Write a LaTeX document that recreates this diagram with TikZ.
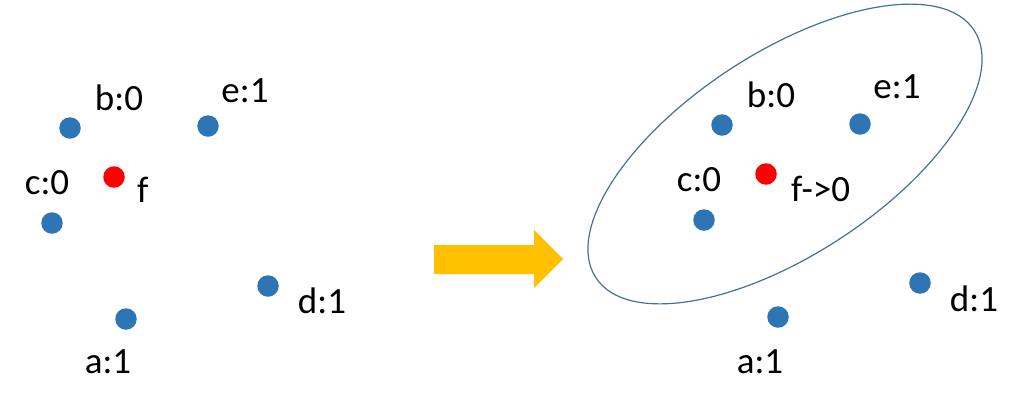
\documentclass[tikz,border=0pt]{standalone}
\usepackage{fontspec}
\setmainfont{Carlito}
\definecolor{dotblue}{HTML}{2E75B6}
\definecolor{dotred}{HTML}{FF0000}
\definecolor{ellblue}{HTML}{41719C}
\definecolor{arrowgold}{HTML}{FFC000}
\tikzset{
  pt/.style={circle, fill=dotblue, inner sep=0pt, minimum size=21.5pt},
  qpt/.style={circle, fill=dotred, inner sep=0pt, minimum size=21.5pt},
  lbl/.style={inner sep=0pt, font=\fontsize{37}{42}\selectfont, text=black}
}
\begin{document}
\begin{tikzpicture}[x=1pt, y=-1pt]
\useasboundingbox (0,0) rectangle (1024,408);
% left panel
\node[pt] (la) at (126,319) {};
\node[pt] (lb) at (70,128) {};
\node[pt] (lc) at (52,223) {};
\node[pt] (ld) at (268,286) {};
\node[pt] (le) at (208,126) {};
\node[qpt] (lf) at (114,177) {};
\node[lbl] (tla) at (108,362) {a:1};
\node[lbl] (tlb) at (119,98) {b:0};
\node[lbl] (tlc) at (47,183) {c:0};
\node[lbl, anchor=west] (tlf) at (137,190) {f};
\node[lbl] (tld) at (322,301) {d:1};
\node[lbl] (tle) at (245,91) {e:1};
% arrow
\fill[arrowgold] (434,245) -- (534,245) -- (534,230) -- (563,259) -- (534,288) -- (534,274) -- (434,274) -- cycle;
% right panel
\draw[ellblue, line width=1.2pt, shift={(785,154)}, rotate=33.2] (0,0) ellipse [x radius=226, y radius=101];
\node[pt] (ra) at (778,317) {};
\node[pt] (rb) at (722,125) {};
\node[pt] (rc) at (704,220) {};
\node[pt] (rd) at (920,283) {};
\node[pt] (re) at (860,124) {};
\node[qpt] (rf) at (766,174) {};
\node[lbl] (tra) at (760,362) {a:1};
\node[lbl] (trb) at (771,95) {b:0};
\node[lbl] (trc) at (699,180) {c:0};
\node[lbl, anchor=west] (trf) at (791,189) {f->0};
\node[lbl] (trd) at (974,299) {d:1};
\node[lbl] (tre) at (897,87) {e:1};
\end{tikzpicture}
\end{document}
